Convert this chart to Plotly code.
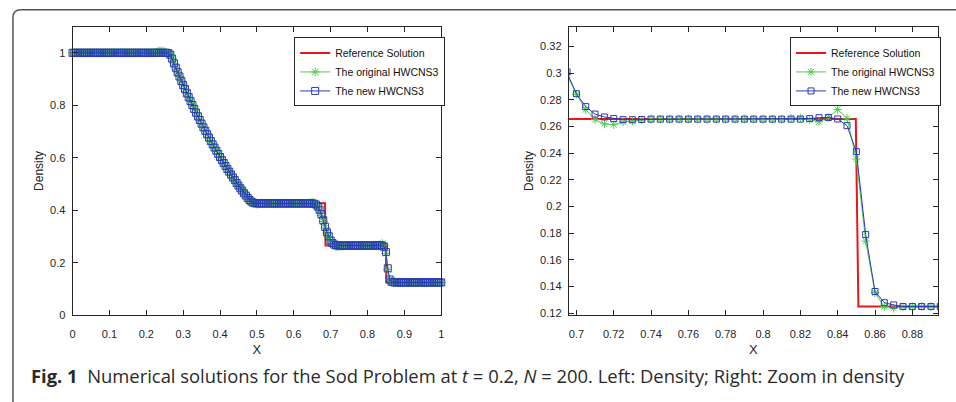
import plotly.graph_objects as go

# ---------------- data ----------------
X_GRID = [
    0.000, 0.005, 0.010, 0.015, 0.020, 0.025, 0.030, 0.035, 0.040, 0.045,
    0.050, 0.055, 0.060, 0.065, 0.070, 0.075, 0.080, 0.085, 0.090, 0.095,
    0.100, 0.105, 0.110, 0.115, 0.120, 0.125, 0.130, 0.135, 0.140, 0.145,
    0.150, 0.155, 0.160, 0.165, 0.170, 0.175, 0.180, 0.185, 0.190, 0.195,
    0.200, 0.205, 0.210, 0.215, 0.220, 0.225, 0.230, 0.235, 0.240, 0.245,
    0.250, 0.255, 0.260, 0.265, 0.270, 0.275, 0.280, 0.285, 0.290, 0.295,
    0.300, 0.305, 0.310, 0.315, 0.320, 0.325, 0.330, 0.335, 0.340, 0.345,
    0.350, 0.355, 0.360, 0.365, 0.370, 0.375, 0.380, 0.385, 0.390, 0.395,
    0.400, 0.405, 0.410, 0.415, 0.420, 0.425, 0.430, 0.435, 0.440, 0.445,
    0.450, 0.455, 0.460, 0.465, 0.470, 0.475, 0.480, 0.485, 0.490, 0.495,
    0.500, 0.505, 0.510, 0.515, 0.520, 0.525, 0.530, 0.535, 0.540, 0.545,
    0.550, 0.555, 0.560, 0.565, 0.570, 0.575, 0.580, 0.585, 0.590, 0.595,
    0.600, 0.605, 0.610, 0.615, 0.620, 0.625, 0.630, 0.635, 0.640, 0.645,
    0.650, 0.655, 0.660, 0.665, 0.670, 0.675, 0.680, 0.685, 0.690, 0.695,
    0.700, 0.705, 0.710, 0.715, 0.720, 0.725, 0.730, 0.735, 0.740, 0.745,
    0.750, 0.755, 0.760, 0.765, 0.770, 0.775, 0.780, 0.785, 0.790, 0.795,
    0.800, 0.805, 0.810, 0.815, 0.820, 0.825, 0.830, 0.835, 0.840, 0.845,
    0.850, 0.855, 0.860, 0.865, 0.870, 0.875, 0.880, 0.885, 0.890, 0.895,
    0.900, 0.905, 0.910, 0.915, 0.920, 0.925, 0.930, 0.935, 0.940, 0.945,
    0.950, 0.955, 0.960, 0.965, 0.970, 0.975, 0.980, 0.985, 0.990, 0.995,
    1.000,
]

REF_X = [
    0.0, 0.2634, 0.27, 0.28, 0.29, 0.30, 0.31, 0.32, 0.33, 0.34, 0.35,
    0.36, 0.37, 0.38, 0.39, 0.40, 0.41, 0.42, 0.43, 0.44, 0.45, 0.46,
    0.47, 0.48, 0.4859, 0.6848, 0.6862, 0.8497, 0.8511, 1.0,
]
REF_RHO = [
    1.0, 1.0, 0.9768, 0.9427, 0.9096, 0.8774, 0.8462, 0.8158, 0.7863, 0.7577, 0.7299,
    0.7030, 0.6768, 0.6514, 0.6268, 0.6030, 0.5798, 0.5574, 0.5357, 0.5147, 0.4943, 0.4745,
    0.4555, 0.4370, 0.4263, 0.4263, 0.2656, 0.2656, 0.1250, 0.1250,
]

ORIG_RHO = [
    1.0, 1.0, 1.0, 1.0, 1.0, 1.0, 1.0, 1.0, 1.0, 1.0,
    1.0, 1.0, 1.0, 1.0, 1.0, 1.0, 1.0, 1.0, 1.0, 1.0,
    1.0, 1.0, 1.0, 1.0, 1.0, 1.0, 1.0, 1.0, 1.0, 1.0,
    1.0, 1.0, 1.0, 1.0, 1.0, 1.0, 1.0, 1.0, 1.0, 1.0,
    1.0, 1.0, 1.0, 1.0, 1.0, 1.001, 1.004, 1.006, 1.006, 1.005,
    1.003, 1.000, 0.998, 0.992, 0.978, 0.960, 0.943, 0.926, 0.910, 0.893,
    0.877, 0.862, 0.846, 0.831, 0.816, 0.801, 0.786, 0.772, 0.758, 0.744,
    0.730, 0.716, 0.703, 0.690, 0.677, 0.664, 0.651, 0.639, 0.627, 0.615,
    0.603, 0.591, 0.580, 0.569, 0.557, 0.547, 0.536, 0.525, 0.515, 0.504,
    0.494, 0.484, 0.475, 0.465, 0.456, 0.447, 0.439, 0.432, 0.427, 0.425,
    0.424, 0.425, 0.426, 0.4263, 0.4263, 0.4263, 0.4263, 0.4263, 0.4263, 0.4263,
    0.4263, 0.4263, 0.4263, 0.4263, 0.4263, 0.4263, 0.4263, 0.4263, 0.4263, 0.4263,
    0.4263, 0.4263, 0.4263, 0.4263, 0.4263, 0.4263, 0.4263, 0.4263, 0.4268, 0.428,
    0.4295, 0.427, 0.421, 0.412, 0.398, 0.380, 0.357, 0.333, 0.313, 0.299,
    0.2843, 0.2727, 0.2652, 0.2620, 0.2614, 0.2635, 0.2640, 0.2649, 0.2656, 0.2656,
    0.2656, 0.2656, 0.2656, 0.2656, 0.2656, 0.2656, 0.2656, 0.2656, 0.2656, 0.2656,
    0.2656, 0.2656, 0.2656, 0.2662, 0.2664, 0.2652, 0.2635, 0.2669, 0.2728, 0.2662,
    0.2356, 0.1741, 0.1353, 0.1249, 0.1237, 0.1248, 0.1250, 0.1250, 0.1250, 0.1250,
    0.1250, 0.1250, 0.1250, 0.1250, 0.1250, 0.1250, 0.1250, 0.1250, 0.1250, 0.1250,
    0.1250, 0.1250, 0.1250, 0.1250, 0.1250, 0.1250, 0.1250, 0.1250, 0.1250, 0.1250,
    0.1250,
]

NEW_RHO = [
    1.0, 1.0, 1.0, 1.0, 1.0, 1.0, 1.0, 1.0, 1.0, 1.0,
    1.0, 1.0, 1.0, 1.0, 1.0, 1.0, 1.0, 1.0, 1.0, 1.0,
    1.0, 1.0, 1.0, 1.0, 1.0, 1.0, 1.0, 1.0, 1.0, 1.0,
    1.0, 1.0, 1.0, 1.0, 1.0, 1.0, 1.0, 1.0, 1.0, 1.0,
    1.0, 1.0, 1.0, 1.0, 1.0, 1.0, 1.0, 1.0, 1.0, 1.0,
    1.0, 1.000, 0.999, 0.993, 0.978, 0.960, 0.943, 0.926, 0.910, 0.893,
    0.877, 0.862, 0.846, 0.831, 0.816, 0.801, 0.786, 0.772, 0.758, 0.744,
    0.730, 0.716, 0.703, 0.690, 0.677, 0.664, 0.651, 0.639, 0.627, 0.615,
    0.603, 0.591, 0.580, 0.569, 0.557, 0.547, 0.536, 0.525, 0.515, 0.504,
    0.494, 0.484, 0.475, 0.465, 0.456, 0.447, 0.439, 0.433, 0.429, 0.427,
    0.4265, 0.4263, 0.4263, 0.4263, 0.4263, 0.4263, 0.4263, 0.4263, 0.4263, 0.4263,
    0.4263, 0.4263, 0.4263, 0.4263, 0.4263, 0.4263, 0.4263, 0.4263, 0.4263, 0.4263,
    0.4263, 0.4263, 0.4263, 0.4263, 0.4263, 0.4263, 0.4263, 0.4263, 0.4263, 0.4263,
    0.4263, 0.425, 0.422, 0.415, 0.402, 0.385, 0.362, 0.337, 0.316, 0.301,
    0.2847, 0.2750, 0.2694, 0.2672, 0.2660, 0.2652, 0.2652, 0.2653, 0.2656, 0.2656,
    0.2656, 0.2656, 0.2656, 0.2656, 0.2656, 0.2656, 0.2656, 0.2656, 0.2656, 0.2656,
    0.2656, 0.2656, 0.2656, 0.2656, 0.2656, 0.2660, 0.2667, 0.2668, 0.2657, 0.2607,
    0.2412, 0.1790, 0.1363, 0.1279, 0.1262, 0.1250, 0.1250, 0.1250, 0.1250, 0.1250,
    0.1250, 0.1250, 0.1250, 0.1250, 0.1250, 0.1250, 0.1250, 0.1250, 0.1250, 0.1250,
    0.1250, 0.1250, 0.1250, 0.1250, 0.1250, 0.1250, 0.1250, 0.1250, 0.1250, 0.1250,
    0.1250,
]

SERIES_NAMES = ["Reference Solution", "The original HWCNS3", "The new HWCNS3"]

LEFT_XTICKS = [0, 0.1, 0.2, 0.3, 0.4, 0.5, 0.6, 0.7, 0.8, 0.9, 1.0]
LEFT_XTEXT = ["0", "0.1", "0.2", "0.3", "0.4", "0.5", "0.6", "0.7", "0.8", "0.9", "1"]
LEFT_YTICKS = [0, 0.2, 0.4, 0.6, 0.8, 1.0]
LEFT_YTEXT = ["0", "0.2", "0.4", "0.6", "0.8", "1"]
RIGHT_XTICKS = [0.70, 0.72, 0.74, 0.76, 0.78, 0.80, 0.82, 0.84, 0.86, 0.88]
RIGHT_XTEXT = ["0.7", "0.72", "0.74", "0.76", "0.78", "0.8", "0.82", "0.84", "0.86", "0.88"]
RIGHT_YTICKS = [0.12, 0.14, 0.16, 0.18, 0.20, 0.22, 0.24, 0.26, 0.28, 0.30, 0.32]
RIGHT_YTEXT = ["0.12", "0.14", "0.16", "0.18", "0.2", "0.22", "0.24", "0.26", "0.28", "0.3", "0.32"]

X_TITLE = "X"
Y_TITLE = "Density"
CAPTION = ("<b>Fig. 1</b>\u00a0\u00a0Numerical solutions for the Sod Problem at <i>t</i> = 0.2, "
           "<i>N</i> = 200. Left: Density; Right: Zoom in density")

# ---------------- style ----------------
W, H = 956, 402
RED = "#e8151b"
GREEN = "#4fcf4f"
BLUE = "#2a3db3"
AX = "#262626"
TICKFONT = dict(family="Liberation Sans", size=11, color=AX)


def px_x(p):
    return p / W


def px_y(p):
    return 1 - p / H


fig = go.Figure()

panels = [("x", "y", "legend", False, 7.5, 7), ("x2", "y2", "legend2", True, 7, 6)]
for xa, ya, leg, clip, star_size, sq_size in panels:
    fig.add_trace(go.Scatter(
        x=REF_X, y=REF_RHO, mode="lines", name=SERIES_NAMES[0],
        line=dict(color=RED, width=2), xaxis=xa, yaxis=ya, legend=leg, cliponaxis=clip))
    fig.add_trace(go.Scatter(
        x=X_GRID, y=ORIG_RHO, mode="lines+markers", name=SERIES_NAMES[1],
        line=dict(color=GREEN, width=1),
        marker=dict(symbol="asterisk-open", size=star_size, color=GREEN,
                    line=dict(color=GREEN, width=1)),
        xaxis=xa, yaxis=ya, legend=leg, cliponaxis=clip))
    fig.add_trace(go.Scatter(
        x=X_GRID, y=NEW_RHO, mode="lines+markers", name=SERIES_NAMES[2],
        line=dict(color=BLUE, width=1),
        marker=dict(symbol="square-open", size=sq_size, color=BLUE,
                    line=dict(color=BLUE, width=1)),
        xaxis=xa, yaxis=ya, legend=leg, cliponaxis=clip))

common_axis = dict(
    ticks="inside", ticklen=5, tickwidth=1, tickcolor=AX,
    showline=True, linecolor=AX, linewidth=1, mirror="ticks",
    showgrid=False, zeroline=False, tickfont=TICKFONT,
)
xaxis_common = dict(ticklabelstandoff=9,
                    title=dict(text=X_TITLE, font=dict(family="Liberation Sans", size=13, color=AX),
                               standoff=5),
                    **common_axis)
yaxis_common = dict(ticklabelstandoff=4,
                    title=dict(text=Y_TITLE, font=dict(family="Liberation Sans", size=12, color=AX),
                               standoff=3),
                    **common_axis)
ydom = [px_y(320), px_y(27)]
legend_common = dict(xanchor="left", yanchor="top",
                     bgcolor="white", bordercolor=AX, borderwidth=1,
                     font=dict(family="Liberation Sans", size=10.5, color="#111"),
                     tracegroupgap=0, itemwidth=30)

fig.update_layout(
    width=W, height=H,
    margin=dict(l=0, r=0, t=0, b=0),
    paper_bgcolor="white", plot_bgcolor="white",
    xaxis=dict(domain=[px_x(70), px_x(441)], range=[0, 1], tickmode="array",
               tickvals=LEFT_XTICKS, ticktext=LEFT_XTEXT, anchor="y", **xaxis_common),
    yaxis=dict(domain=ydom, range=[0, 1.1], tickmode="array",
               tickvals=LEFT_YTICKS, ticktext=LEFT_YTEXT, anchor="x", **yaxis_common),
    xaxis2=dict(domain=[px_x(569.3), px_x(941)], range=[0.6959, 0.8938], tickmode="array",
                tickvals=RIGHT_XTICKS, ticktext=RIGHT_XTEXT, anchor="y2", **xaxis_common),
    yaxis2=dict(domain=ydom, range=[0.1185, 0.335], tickmode="array",
                tickvals=RIGHT_YTICKS, ticktext=RIGHT_YTEXT, anchor="x2", **yaxis_common),
    legend=dict(x=px_x(293), y=px_y(38), **legend_common),
    legend2=dict(x=px_x(792), y=px_y(38), **legend_common),
    showlegend=True,
)

# page frame with rounded top-left corner
fx, fy, r = 10, 10, 8
path = (f"M {px_x(fx)} {-0.2} L {px_x(fx)} {px_y(fy + r)} "
        f"Q {px_x(fx)} {px_y(fy)} {px_x(fx + r)} {px_y(fy)} L 1.2 {px_y(fy)}")
fig.add_shape(type="path", path=path, xref="paper", yref="paper",
              line=dict(color="#555555", width=1.5), layer="above")

fig.add_annotation(
    text=CAPTION, xref="paper", yref="paper", x=px_x(26), y=px_y(381),
    xanchor="left", yanchor="middle", showarrow=False,
    font=dict(family="Open Sans", size=18.4, color="#2a2a2a"),
)

fig.write_html("out.html")
